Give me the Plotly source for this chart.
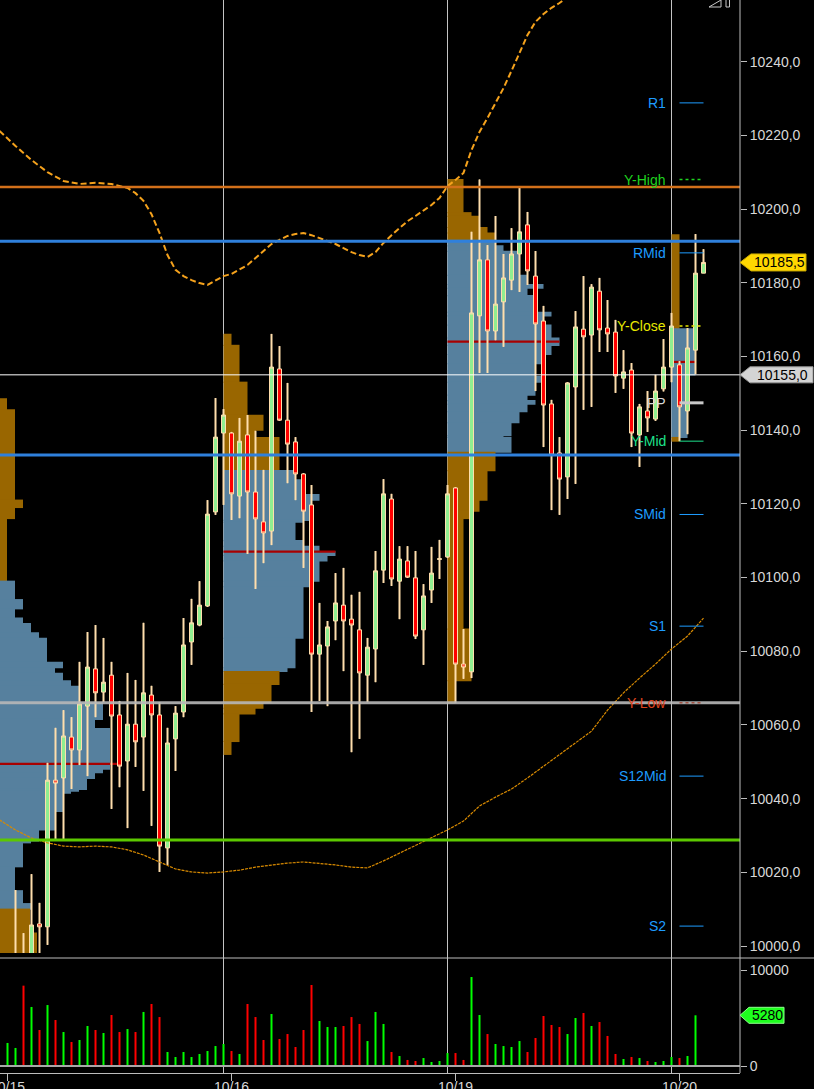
import plotly.graph_objects as go

# ---------------- price bars (bar index 0..87) ----------------
bar_open = [9990.0, 9990.0, 9997.0, 9997.0, 10006.0, 10005.2, 10045.0, 10045.6, 10056.7, 10053.2,
            10065.1, 10075.2, 10068.9, 10073.5, 10062.7, 10050.2, 10060.2, 10056.7, 10068.1, 10062.7,
            10026.6, 10056.2, 10063.5, 10082.5, 10087.1, 10092.3, 10117.8, 10139.2, 10139.2, 10122.1,
            10138.7, 10123.2, 10115.1, 10112.6, 10156.6, 10142.7, 10136.8, 10128.1, 10119.7, 10079.2,
            10081.4, 10088.2, 10092.5, 10088.7, 10085.8, 10073.5, 10080.6, 10102.0, 10121.3, 10099.0,
            10104.5, 10099.9, 10085.8, 10096.6, 10104.9, 10105.6, 10124.3, 10076.5, 10074.4, 10171.0,
            10186.2, 10166.9, 10174.8, 10180.7, 10187.8, 10195.7, 10181.8, 10169.6, 10147.1, 10133.8,
            10127.3, 10151.7, 10167.4, 10165.8, 10177.7, 10167.7, 10166.6, 10154.1, 10156.3, 10138.7,
            10145.2, 10143.0, 10151.2, 10157.1, 10157.7, 10145.2, 10161.7, 10182.6]
bar_high = [9994.0, 10015.2, 10003.5, 10019.5, 10011.7, 10049.7, 10059.2, 10064.0, 10062.1, 10077.1,
            10085.2, 10087.1, 10083.6, 10077.1, 10066.5, 10074.1, 10072.2, 10087.7, 10070.6, 10066.2,
            10059.2, 10065.1, 10089.0, 10094.2, 10099.0, 10121.0, 10148.7, 10145.7, 10139.5, 10143.3,
            10144.1, 10139.8, 10129.2, 10166.1, 10162.8, 10152.8, 10138.1, 10128.3, 10125.1, 10093.1,
            10088.2, 10101.2, 10102.6, 10095.3, 10096.1, 10083.6, 10107.2, 10126.7, 10122.7, 10108.5,
            10108.5, 10107.2, 10098.2, 10108.3, 10110.2, 10125.1, 10124.5, 10086.0, 10193.8, 10208.0,
            10190.2, 10198.1, 10187.8, 10194.8, 10205.7, 10199.2, 10188.6, 10173.7, 10148.2, 10138.1,
            10153.0, 10172.3, 10181.8, 10179.6, 10181.3, 10175.3, 10169.9, 10161.7, 10158.2, 10147.1,
            10150.6, 10155.0, 10164.7, 10171.8, 10158.7, 10167.7, 10193.2, 10189.1]
bar_low = [9978.0, 9984.0, 9985.0, 9990.0, 9996.0, 10000.3, 10029.0, 10029.0, 10042.6, 10049.1,
           10046.1, 10062.1, 10066.2, 10037.2, 10043.1, 10032.0, 10048.6, 10042.1, 10032.6, 10020.1,
           10022.0, 10047.5, 10062.1, 10076.3, 10086.8, 10092.0, 10117.0, 10119.7, 10115.6, 10116.1,
           10106.4, 10096.9, 10103.9, 10108.8, 10142.5, 10125.6, 10121.0, 10102.6, 10063.5, 10066.5,
           10065.1, 10083.0, 10074.6, 10052.6, 10056.2, 10066.2, 10071.6, 10098.5, 10097.7, 10088.7,
           10099.9, 10083.3, 10076.3, 10093.1, 10099.6, 10105.3, 10066.0, 10072.5, 10072.7, 10155.5,
           10155.5, 10164.4, 10162.6, 10178.0, 10177.5, 10179.4, 10150.6, 10135.4, 10118.3, 10117.0,
           10121.3, 10125.4, 10145.5, 10146.3, 10161.2, 10161.2, 10150.1, 10151.2, 10135.4, 10130.0,
           10139.5, 10142.5, 10150.5, 10153.0, 10137.0, 10138.9, 10155.2, 10182.6]
bar_close = [9993.0, 9996.0, 9990.0, 10005.7, 10005.2, 10045.0, 10044.2, 10057.0, 10053.2, 10065.7,
             10075.7, 10068.7, 10071.6, 10062.4, 10048.8, 10060.2, 10055.4, 10068.7, 10062.7, 10027.1,
             10055.1, 10063.2, 10081.7, 10087.7, 10092.5, 10117.2, 10138.1, 10144.1, 10122.7, 10137.0,
             10123.2, 10115.9, 10112.1, 10157.1, 10142.7, 10136.2, 10128.1, 10118.0, 10079.2, 10081.7,
             10086.6, 10093.1, 10088.2, 10087.1, 10074.1, 10081.1, 10101.8, 10122.7, 10099.6, 10105.0,
             10100.1, 10084.1, 10095.0, 10101.2, 10105.1, 10122.7, 10076.5, 10075.7, 10171.8, 10186.2,
             10166.9, 10174.2, 10181.3, 10187.8, 10193.8, 10183.2, 10168.8, 10146.8, 10133.2, 10126.7,
             10152.8, 10168.0, 10165.3, 10178.8, 10167.2, 10166.1, 10154.7, 10155.8, 10139.2, 10146.3,
             10143.3, 10150.6, 10157.1, 10168.25, 10146.3, 10162.3, 10182.6, 10185.5]
bar_volume = [2400, 1880, 8370, 6150, 3750, 6350, 4790, 3540, 2500, 2710,
              4170, 3750, 3440, 5310, 3540, 3850, 3540, 5630, 6460, 5100,
              1460, 940, 1460, 940, 1250, 1560, 2080, 2290, 1560, 1250,
              6460, 5100, 2710, 5420, 2810, 3330, 1980, 3750, 8440, 4690,
              4060, 4060, 4170, 5100, 4380, 2600, 5630, 4380, 1460, 1040,
              630, 520, 830, 420, 520, 1350, 1350, 630, 9270, 5310,
              3330, 2290, 2080, 1980, 2600, 1460, 2920, 5210, 4270, 4060,
              3330, 5000, 5520, 4170, 4580, 3130, 1250, 730, 940, 830,
              520, 420, 520, 940, 830, 1040, 5280, None]
bar_index = list(range(len(bar_close)))

# session dates and breaks
date_ticks = [0, 28, 56, 84]
date_labels = ["10/15", "10/16", "10/19", "10/20"]
session_breaks = [27, 55, 83]

# ---------------- moving averages ----------------
ma_slow_x = [-1, 1, 3, 5, 7, 9, 11, 13, 15] + list(range(16, 71))
ma_slow_y = [10221.2, 10217.1, 10213.3, 10210.0, 10207.6, 10206.8, 10207.1, 10206.8, 10205.7,
             10204.3, 10202.2, 10198.6, 10193.5, 10187.5, 10183.5, 10181.8, 10180.7, 10179.9, 10179.4,
             10180.7, 10181.8, 10182.4, 10183.5, 10184.8, 10186.7, 10188.6, 10190.5, 10191.6, 10192.7,
             10193.2, 10193.5, 10192.9, 10192.1, 10191.3, 10190.5, 10189.4, 10188.3, 10187.5, 10187.0,
             10188.3, 10190.8, 10192.9, 10194.8, 10196.7, 10198.1, 10199.5, 10201.1, 10203.0, 10206.2,
             10207.9, 10209.8, 10216.0, 10220.9, 10224.7, 10228.8, 10232.8, 10237.5, 10242.6, 10247.2,
             10250.8, 10252.9, 10254.6, 10255.9, 10257.5]
ma_long_x = list(range(-1, 88, 2))
ma_long_y = [10034.2, 10031.5, 10029.3, 10028.0, 10027.1, 10026.9, 10027.1, 10026.9, 10026.1, 10024.7,
             10022.8, 10020.9, 10020.1, 10019.8, 10020.1, 10020.6, 10021.4, 10022.0, 10022.5, 10022.8,
             10022.5, 10022.0, 10021.4, 10021.2, 10023.1, 10025.2, 10027.4, 10029.6, 10031.5, 10033.9,
             10038.0, 10040.4, 10042.6, 10045.6, 10048.8, 10052.1, 10055.1, 10058.3, 10064.0, 10068.7,
             10072.7, 10076.5, 10080.6, 10084.1, 10089.0]

# ---------------- session volume profiles ----------------
# price edges (top -> bottom), volume per step, value area bounds, point of control
prof1_edges = [10148.5, 10145.5, 10121.0, 10119.0, 10116.0, 10099.0, 10094.0, 10091.5, 10089.0, 10087.5,
               10085.0, 10083.5, 10077.0, 10075.5, 10074.0, 10072.0, 10070.5, 10066.0, 10061.5, 10059.0,
               10048.0, 10047.0, 10045.5, 10042.5, 10042.0, 10041.5, 10036.5, 10031.5, 10028.5, 10028.0,
               10021.5, 10015.0, 10011.5, 10010.0, 10003.5, 9995.0]
prof1_vol = [7, 15, 23, 15, 7, 15, 23, 15, 23, 31, 39, 47, 63, 55, 63, 71, 79, 103, 95, 110,
             103, 95, 87, 79, 71, 63, 55, 39, 31, 23, 15, 23, 31, 30, 37]
prof1_va = (10010.0, 10099.0)
prof1_poc = (10049.4, 117)

prof2_edges = [10166.0, 10163.0, 10153.0, 10144.0, 10140.0, 10138.0, 10129.0, 10126.5, 10122.5, 10121.0,
               10115.5, 10115.0, 10110.0, 10108.5, 10107.0, 10106.0, 10104.5, 10099.0, 10097.5, 10083.5,
               10075.5, 10074.5, 10071.0, 10066.0, 10064.5, 10063.0, 10055.5, 10052.0]
prof2_vol = [8, 16, 24, 40, 32, 56, 72, 80, 96, 88, 80, 72, 80, 96, 112, 104, 96, 88, 80, 72,
             64, 56, 48, 40, 32, 16, 8]
prof2_va = (10074.5, 10129.0)
prof2_poc = (10107.0, 112)

prof3_edges = [10208.0, 10199.0, 10198.0, 10195.0, 10193.5, 10191.5, 10190.0, 10188.5, 10182.0, 10179.5,
               10178.5, 10176.5, 10172.0, 10171.0, 10168.5, 10165.0, 10163.0, 10160.5, 10158.0, 10154.5,
               10153.0, 10149.5, 10148.0, 10147.0, 10145.0, 10142.0, 10138.5, 10138.0, 10134.0, 10129.0,
               10121.0, 10118.0, 10116.0, 10086.0, 10072.0, 10066.0]
prof3_vol = [16, 24, 32, 40, 48, 48, 56, 72, 80, 96, 80, 88, 104, 96, 104, 112, 104, 96, 88, 96,
             88, 80, 88, 80, 72, 64, 56, 64, 48, 40, 32, 24, 16, 24, 8]
prof3_va = (10134.0, 10191.5)
prof3_poc = (10164.0, 112)

prof4_edges = [10193.0, 10167.5, 10155.0, 10138.0, 10137.0]
prof4_vol = [8, 24, 16, 8]
prof4_va = (10138.0, 10167.5)
prof4_poc = (10158.5, 24)

# ---------------- reference levels ----------------
level_names = ["R1", "Y-High", "RMid", "Y-Close", "PP", "Y-Mid", "SMid", "S1", "Y-Low", "S12Mid", "S2"]
level_values = [10228.8, 10208.0, 10188.1, 10168.25, 10147.4, 10137.0, 10117.1, 10086.8, 10066.0,
                10046.1, 10005.4]
level_text_colors = ["#1e9cff", "#1fd21f", "#1e9cff", "#e8e800", "#d8d8d8", "#1ee08c", "#1e9cff",
                     "#1e9cff", "#e0441c", "#1e9cff", "#1e9cff"]
level_line_styles = [("#1e9cff", 1, "solid"), ("#1fd21f", 1.5, "dot"), ("#1e9cff", 1, "solid"),
                     ("#e8e800", 1.5, "dot"), ("#c8c8c8", 3, "solid"), ("#1ee08c", 1, "solid"),
                     ("#1e9cff", 1, "solid"), ("#1e9cff", 1, "solid"), ("#a05040", 1.5, "dot"),
                     ("#1e9cff", 1, "solid"), ("#1e9cff", 1, "solid")]

hline_values = [10206.0, 10191.25, 10155.0, 10133.25, 10066.0, 10028.75]
hline_styles = [("#d2701a", 2.5, 1.0), ("#2f80dc", 3, 1.0), ("#ffffff", 1, 1.0),
                ("#2f80dc", 3, 1.0), ("#b8b8b8", 3, 0.9), ("#5cc800", 3, 1.0)]

# ---------------- geometry of the canvas ----------------
W, H = 814, 1089
PLOT_W, PLOT_H = 740, 1073
BAR_PX = 8.0                                  # pixels per bar slot
X_START = -7.5 / BAR_PX                       # first bar centred at x = 7.5 px
X_RANGE = [X_START, X_START + PLOT_W / BAR_PX]
PRICE_RANGE = [9998.1, 10256.72]
VOL_RANGE = [-729.2, 11041.7]
MAIN_DOMAIN = [(PLOT_H - 953) / PLOT_H, 1.0]
VOL_DOMAIN = [0.0, (PLOT_H - 960) / PLOT_H]
PROFILE_SCALE = 1 / BAR_PX                    # bars of width per volume unit

profiles = [(X_START, prof1_edges, prof1_vol, prof1_va, prof1_poc),
            (27, prof2_edges, prof2_vol, prof2_va, prof2_poc),
            (55, prof3_edges, prof3_vol, prof3_va, prof3_poc),
            (83, prof4_edges, prof4_vol, prof4_va, prof4_poc)]

UP_FILL, DOWN_FILL, WICK = "#90ee90", "#ff0000", "#ffdead"
VA_COLOR, OUT_COLOR, POC_COLOR = "#56809e", "#996600", "#a80000"
AXIS_COLOR, TEXT_COLOR = "#bdbdbd", "#d8d8d8"
FONT = "Liberation Sans, Arial, sans-serif"

fig = go.Figure()

# volume profiles
for anchor, edges, vols, (va_lo, va_hi), (poc_price, poc_len) in profiles:
    mids = [(a + b) / 2 for a, b in zip(edges[:-1], edges[1:])]
    thick = [a - b + 0.3 for a, b in zip(edges[:-1], edges[1:])]
    colors = [VA_COLOR if va_lo <= m <= va_hi else OUT_COLOR for m in mids]
    fig.add_trace(go.Bar(orientation="h", y=mids, x=[v * PROFILE_SCALE for v in vols], base=anchor,
                         width=thick, marker=dict(color=colors, line=dict(width=0)),
                         xaxis="x", yaxis="y", hoverinfo="skip"))
    fig.add_trace(go.Bar(orientation="h", y=[poc_price], x=[poc_len * PROFILE_SCALE], base=anchor,
                         width=[0.6], marker=dict(color=POC_COLOR, line=dict(width=0)),
                         xaxis="x", yaxis="y", hoverinfo="skip"))

# wicks (2 px wide), drawn under the candle bodies
fig.add_trace(go.Bar(x=bar_index, y=[h - l for h, l in zip(bar_high, bar_low)], base=bar_low,
                     width=0.25, marker=dict(color=WICK, line=dict(width=0)),
                     xaxis="x", yaxis="y", hoverinfo="skip"))

# candles
fig.add_trace(go.Candlestick(
    x=bar_index, open=bar_open, high=bar_high, low=bar_low, close=bar_close,
    increasing=dict(fillcolor=UP_FILL, line=dict(color=WICK, width=1)),
    decreasing=dict(fillcolor=DOWN_FILL, line=dict(color=WICK, width=1)),
    whiskerwidth=0, opacity=1, xaxis="x", yaxis="y", hoverinfo="skip"))

# moving averages
fig.add_trace(go.Scatter(x=ma_slow_x, y=ma_slow_y, mode="lines",
                         line=dict(color="#f5a21c", width=2, dash="6px,3px"),
                         xaxis="x", yaxis="y", hoverinfo="skip"))
fig.add_trace(go.Scatter(x=ma_long_x, y=ma_long_y, mode="lines",
                         line=dict(color="#d88a00", width=1.2, dash="3px,1px"),
                         xaxis="x", yaxis="y", hoverinfo="skip"))

# volume
vol_colors = ["#00ff00" if c >= o else "#ff0000" for o, c in zip(bar_open, bar_close)]
fig.add_trace(go.Bar(x=bar_index, y=bar_volume, width=0.25,
                     marker=dict(color=vol_colors, line=dict(width=0)),
                     xaxis="x", yaxis="y2", hoverinfo="skip"))

shapes = []
# session separators
for b in session_breaks:
    shapes.append(dict(type="line", xref="x", yref="paper", x0=b, x1=b, y0=0, y1=1,
                       line=dict(color="#c4c4c4", width=1), layer="below"))
# horizontal reference lines
for v, (col, wd, op) in zip(hline_values, hline_styles):
    shapes.append(dict(type="line", xref="paper", yref="y", x0=0, x1=1, y0=v, y1=v,
                       line=dict(color=col, width=wd), opacity=op, layer="above"))
# short pivot markers
for v, (col, wd, dash) in zip(level_values, level_line_styles):
    shapes.append(dict(type="line", xref="x", yref="y", x0=84, x1=87, y0=v, y1=v,
                       line=dict(color=col, width=wd, dash=dash), layer="above"))
# volume zero line, panel separator, right axis line
shapes.append(dict(type="line", xref="paper", yref="y2", x0=0, x1=1, y0=0, y1=0,
                   line=dict(color="#a8a8a8", width=2), layer="above"))
sep_y = (PLOT_H - 958) / PLOT_H
shapes.append(dict(type="line", xref="paper", yref="paper", x0=0, x1=W / PLOT_W, y0=sep_y, y1=sep_y,
                   line=dict(color=AXIS_COLOR, width=1), layer="above"))
shapes.append(dict(type="line", xref="paper", yref="paper", x0=1, x1=1, y0=0, y1=1,
                   line=dict(color=AXIS_COLOR, width=1), layer="above"))


def px(x):
    return x / PLOT_W


def py(y):
    return (PLOT_H - y) / PLOT_H


# small toolbar glyph in the corner
shapes.append(dict(type="path", xref="paper", yref="paper",
                   path=f"M {px(709)},{py(7)} L {px(721)},{py(0)} L {px(721)},{py(7)} Z "
                        f"M {px(726)},{py(0)} L {px(726)},{py(7)} L {px(729.5)},{py(7)} L {px(729.5)},{py(0)}",
                   line=dict(color="#c8c8c8", width=1)))

annotations = []


def price_tag(value, text, fill, border, half_px, left_px, right_px, yref, per_px):
    h = half_px * per_px
    path = (f"M {px(740)},{value} L {px(left_px)},{value + h} L {px(right_px)},{value + h} "
            f"L {px(right_px)},{value - h} L {px(left_px)},{value - h} Z")
    shapes.append(dict(type="path", xref="paper", yref=yref, path=path,
                       fillcolor=fill, line=dict(color=border, width=1), layer="above"))
    annotations.append(dict(xref="paper", yref=yref, x=px((left_px + right_px) / 2 + 1), y=value,
                            text=text, showarrow=False, xanchor="center", yanchor="middle",
                            font=dict(family=FONT, size=14, color="#000000")))


price_per_px = (PRICE_RANGE[1] - PRICE_RANGE[0]) / 953.0
vol_per_px = (VOL_RANGE[1] - VOL_RANGE[0]) / (PLOT_H - 960)
last_close = bar_close[-1]
price_tag(last_close, f"{last_close:.1f}".replace(".", ","), "#ffd700", "#c8a800", 8.5, 751, 806, "y",
          price_per_px)
price_tag(hline_values[2], f"{hline_values[2]:.1f}".replace(".", ","), "#d4d4d4", "#9a9a9a", 8, 750, 813,
          "y", price_per_px)
last_vol = bar_volume[-2]
price_tag(last_vol, f"{last_vol}", "#1eff1e", "#8cff8c", 8, 749, 784, "y2", vol_per_px)

# pivot labels
for name, v, col in zip(level_names, level_values, level_text_colors):
    annotations.append(dict(xref="x", yref="y", x=82.6, y=v, text=name, showarrow=False,
                            xanchor="right", yanchor="middle",
                            font=dict(family=FONT, size=14, color=col)))

# session date labels under the time axis
for t, lab in zip(date_ticks, date_labels):
    annotations.append(dict(xref="x", yref="paper", x=t, y=py(1078), text=lab, showarrow=False,
                            xanchor="center", yanchor="top", borderpad=0,
                            font=dict(family=FONT, size=14, color=TEXT_COLOR)))

fig.update_layout(
    width=W, height=H,
    margin=dict(l=0, r=W - PLOT_W, t=0, b=H - PLOT_H, autoexpand=False),
    paper_bgcolor="#000000", plot_bgcolor="#000000",
    showlegend=False, barmode="overlay", boxgap=0.5, boxgroupgap=0, separators=",.",
    font=dict(family=FONT, size=14, color=TEXT_COLOR),
    hovermode=False,
    xaxis=dict(range=X_RANGE, domain=[0, 1], anchor="y2", tickmode="array", tickvals=date_ticks,
               ticktext=date_labels, showticklabels=False, ticks="outside", ticklen=7,
               tickcolor=AXIS_COLOR, showgrid=False, zeroline=False, showline=True,
               linecolor=AXIS_COLOR, linewidth=1, automargin=False,
               rangeslider=dict(visible=False)),
    yaxis=dict(domain=MAIN_DOMAIN, range=PRICE_RANGE, anchor="x", side="right", tick0=10000, dtick=20,
               tickformat=".1f", ticks="outside", ticklen=6, tickcolor=AXIS_COLOR, showgrid=False,
               zeroline=False, showline=False, automargin=False,
               tickfont=dict(family=FONT, size=14, color=TEXT_COLOR)),
    yaxis2=dict(domain=VOL_DOMAIN, range=VOL_RANGE, anchor="x", side="right", tickmode="array",
                tickvals=[0, 10000], tickformat="d", ticks="outside", ticklen=6, tickcolor=AXIS_COLOR,
                showgrid=False, zeroline=False, showline=False, automargin=False,
                tickfont=dict(family=FONT, size=14, color=TEXT_COLOR)),
    shapes=shapes, annotations=annotations,
)

fig.write_html("out.html")
